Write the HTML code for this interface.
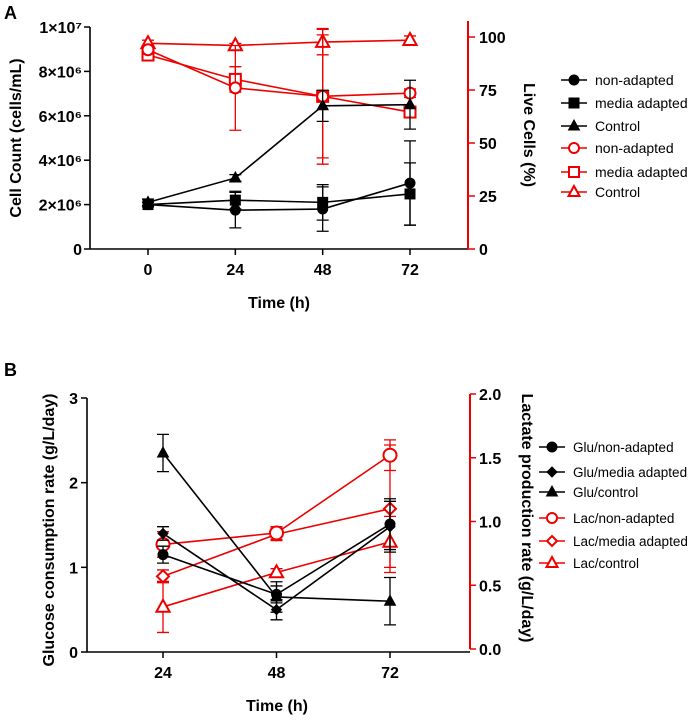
<!DOCTYPE html>
<html><head><meta charset="utf-8"><style>
html,body{margin:0;padding:0;background:#fff;}
svg{display:block;font-family:"Liberation Sans",Arial,sans-serif;}
.tk{font-size:16px;font-weight:bold;}
.tt{font-size:16px;font-weight:bold;}
.lg{font-size:14px;}
.lgb{font-size:13.5px;}
</style></head><body>
<svg id="chart" width="696" height="720" viewBox="0 0 696 720"></svg>
<script>
// ---------- Panel A data ----------
const timesA = [0, 24, 48, 72];
const cellNon = [2.0, 1.75, 1.8, 2.97];
const cellNonErr = [0.1, 0.8, 1.0, 1.9];
const cellMedia = [2.0, 2.2, 2.1, 2.48];
const cellMediaErr = [0.1, 0.4, 0.8, 1.4];
const cellCtrl = [2.1, 3.2, 6.45, 6.5];
const cellCtrlErr = [0.15, 0.15, 0.7, 1.1];
const liveNon = [94, 76, 72, 73.5];
const liveNonErr = [2, 20, 32, 2];
const liveMedia = [91.5, 80, 72, 64.6];
const liveMediaErr = [2, 6, 29, 2];
const liveCtrl = [97, 96, 97.6, 98.5];
const liveCtrlErr = [1.5, 1, 6, 2];
const ticksALeft = [0, 2, 4, 6, 8, 10];
const ticksALeftLbl = ["0", "2×10⁶", "4×10⁶", "6×10⁶", "8×10⁶", "1×10⁷"];
const ticksARight = [0, 25, 50, 75, 100];
// ---------- Panel B data ----------
const timesB = [24, 48, 72];
const gluNon = [1.15, 0.68, 1.51];
const gluNonErr = [0.1, 0.1, 0.3];
const gluMedia = [1.4, 0.5, 1.48];
const gluMediaErr = [0.08, 0.12, 0.3];
const gluCtrl = [2.35, 0.65, 0.6];
const gluCtrlErr = [0.22, 0.18, 0.28];
const lacNon = [0.82, 0.91, 1.52];
const lacNonErr = [0.1, 0.05, 0.12];
const lacMedia = [0.57, 0.9, 1.1];
const lacMediaErr = [0.05, 0.05, 0.5];
const lacCtrl = [0.33, 0.6, 0.84];
const lacCtrlErr = [0.2, 0.03, 0.2];
const ticksBLeft = [0, 1, 2, 3];
const ticksBRight = ["0.0", "0.5", "1.0", "1.5", "2.0"];

const NS = "http://www.w3.org/2000/svg";
const svg = document.getElementById("chart");
function mk(tag, attrs, parent, text) {
  const e = document.createElementNS(NS, tag);
  for (const k in attrs) e.setAttribute(k, attrs[k]);
  if (text !== undefined) e.textContent = text;
  (parent || svg).appendChild(e);
  return e;
}
function marker(g, shape, x, y, col, filled, s) {
  const fill = filled ? col : "#fff";
  const sw = filled ? 1 : 2;
  let m;
  if (shape === "circle") m = mk("circle", {cx: x, cy: y, r: s, fill: fill, stroke: col, "stroke-width": sw}, g);
  else if (shape === "square") m = mk("rect", {x: x - s, y: y - s, width: 2 * s, height: 2 * s, fill: fill, stroke: col, "stroke-width": sw}, g);
  else if (shape === "triangle") m = mk("polygon", {points: `${x},${y - s * 1.2} ${x - s * 1.1},${y + s * 0.8} ${x + s * 1.1},${y + s * 0.8}`, fill: fill, stroke: col, "stroke-width": sw}, g);
  else m = mk("polygon", {points: `${x},${y - s} ${x + s},${y} ${x},${y + s} ${x - s},${y}`, fill: fill, stroke: col, "stroke-width": sw}, g);
  return m;
}
function series(name, xs, ys, errs, xf, yf, shape, col, filled, s) {
  const g = mk("g", {});
  
  
  let d = "";
  xs.forEach((t, i) => { d += (i ? "L" : "M") + xf(t) + "," + yf(ys[i]); });
  mk("path", {d: d, fill: "none", stroke: col, "stroke-width": 1.6}, g);
  xs.forEach((t, i) => {
    const x = xf(t), y1 = yf(ys[i] - errs[i]), y2 = yf(ys[i] + errs[i]);
    mk("path", {d: `M${x},${y1}V${y2}M${x - 6},${y1}H${x + 6}M${x - 6},${y2}H${x + 6}`, stroke: col, "stroke-width": 1.3, fill: "none"}, g);
  });
  xs.forEach((t, i) => {
    const m = marker(g, shape, xf(t), yf(ys[i]), col, filled, s);
    
    
  });
}
function legend(x, y, shape, col, filled, label, name, cls) {
  const g = mk("g", {});
  
  
  mk("line", {x1: x - 13, x2: x + 13, y1: y, y2: y, stroke: col, "stroke-width": 1.6}, g);
  marker(g, shape, x, y, col, filled, 5);
  mk("text", {x: x + 21, y: y + 5, class: cls, fill: "#000"}, g, label);
}

// ================= Panel A =================
const xA = t => 148 + (410 - 148) * t / 72;
const yAL = v => 249 - (249 - 27) * v / 10;
const yAR = v => 249 - (249 - 37) * v / 100;
mk("text", {x: 4, y: 19, "font-size": 18, "font-weight": "bold"}, svg, "A");
let gA = mk("g", {});  
mk("line", {x1: 90, x2: 90, y1: 27, y2: 249, stroke: "#000", "stroke-width": 1.6}, gA);
mk("line", {x1: 90, x2: 468, y1: 249, y2: 249, stroke: "#000", "stroke-width": 1.6}, gA);
mk("line", {x1: 468, x2: 468, y1: 21, y2: 249, stroke: "#e00", "stroke-width": 2}, gA);
ticksALeft.forEach((v, i) => {
  mk("line", {x1: 84, x2: 90, y1: yAL(v), y2: yAL(v), stroke: "#000", "stroke-width": 1.5}, gA);
  mk("text", {x: 82, y: yAL(v) + 6, class: "tk", "text-anchor": "end"}, gA, ticksALeftLbl[i]);
});
ticksARight.forEach(v => {
  mk("line", {x1: 468, x2: 475, y1: yAR(v), y2: yAR(v), stroke: "#e00", "stroke-width": 1.5}, gA);
  mk("text", {x: 479, y: yAR(v) + 6, class: "tk"}, gA, String(v));
});
timesA.forEach(t => {
  mk("line", {x1: xA(t), x2: xA(t), y1: 249, y2: 255, stroke: "#000", "stroke-width": 1.5}, gA);
  mk("text", {x: xA(t), y: 275, class: "tk", "text-anchor": "middle"}, gA, String(t));
});
mk("text", {x: 279, y: 308, class: "tt", "text-anchor": "middle"}, gA, "Time (h)");
mk("text", {transform: "translate(21,138) rotate(-90)", class: "tt", "text-anchor": "middle"}, gA, "Cell Count (cells/mL)");
mk("text", {transform: "translate(524,135) rotate(90)", class: "tt", "text-anchor": "middle"}, gA, "Live Cells (%)");

series("live-control", timesA, liveCtrl, liveCtrlErr, xA, yAR, "triangle", "#e00", false, 6);
series("live-media-adapted", timesA, liveMedia, liveMediaErr, xA, yAR, "square", "#e00", false, 5.5);
series("live-non-adapted", timesA, liveNon, liveNonErr, xA, yAR, "circle", "#e00", false, 5.5);
series("cell-control", timesA, cellCtrl, cellCtrlErr, xA, yAL, "triangle", "#000", true, 5);
series("cell-media-adapted", timesA, cellMedia, cellMediaErr, xA, yAL, "square", "#000", true, 5);
series("cell-non-adapted", timesA, cellNon, cellNonErr, xA, yAL, "circle", "#000", true, 5);

const lgA = [["circle", "#000", true, "non-adapted"], ["square", "#000", true, "media adapted"], ["triangle", "#000", true, "Control"],
  ["circle", "#e00", false, "non-adapted"], ["square", "#e00", false, "media adapted"], ["triangle", "#e00", false, "Control"]];
const lgAy = [80, 103, 126, 148, 172, 192];
lgA.forEach((l, i) => legend(574, lgAy[i], l[0], l[1], l[2], l[3], "legend-a-entry", "lg"));

// ================= Panel B =================
const xB = t => 163 + (390 - 163) * (t - 24) / 48;
const yBL = v => 652 - (652 - 398) * v / 3;
const yBR = v => 649 - (649 - 394) * v / 2;
mk("text", {x: 4, y: 376, "font-size": 18, "font-weight": "bold"}, svg, "B");
let gB = mk("g", {});  
mk("line", {x1: 87, x2: 87, y1: 398, y2: 652, stroke: "#000", "stroke-width": 1.6}, gB);
mk("line", {x1: 87, x2: 470, y1: 652, y2: 652, stroke: "#000", "stroke-width": 1.6}, gB);
mk("line", {x1: 470, x2: 470, y1: 394, y2: 649, stroke: "#e00", "stroke-width": 2}, gB);
ticksBLeft.forEach(v => {
  mk("line", {x1: 81, x2: 87, y1: yBL(v), y2: yBL(v), stroke: "#000", "stroke-width": 1.5}, gB);
  mk("text", {x: 78, y: yBL(v) + 6, class: "tk", "text-anchor": "end"}, gB, String(v));
});
ticksBRight.forEach(v => {
  const y = yBR(parseFloat(v));
  mk("line", {x1: 470, x2: 476, y1: y, y2: y, stroke: "#e00", "stroke-width": 1.5}, gB);
  mk("text", {x: 479, y: y + 6, class: "tk"}, gB, v);
});
timesB.forEach(t => {
  mk("line", {x1: xB(t), x2: xB(t), y1: 652, y2: 658, stroke: "#000", "stroke-width": 1.5}, gB);
  mk("text", {x: xB(t), y: 678, class: "tk", "text-anchor": "middle"}, gB, String(t));
});
mk("text", {x: 277, y: 711, class: "tt", "text-anchor": "middle"}, gB, "Time (h)");
mk("text", {transform: "translate(54,530) rotate(-90)", class: "tt", "text-anchor": "middle"}, gB, "Glucose consumption rate (g/L/day)");
mk("text", {transform: "translate(522,518) rotate(90)", class: "tt", "text-anchor": "middle"}, gB, "Lactate production rate (g/L/day)");

series("lac-control", timesB, lacCtrl, lacCtrlErr, xB, yBR, "triangle", "#e00", false, 6);
series("lac-media-adapted", timesB, lacMedia, lacMediaErr, xB, yBR, "diamond", "#e00", false, 6);
series("lac-non-adapted", timesB, lacNon, lacNonErr, xB, yBR, "circle", "#e00", false, 6.5);
series("glu-control", timesB, gluCtrl, gluCtrlErr, xB, yBL, "triangle", "#000", true, 5);
series("glu-media-adapted", timesB, gluMedia, gluMediaErr, xB, yBL, "diamond", "#000", true, 5);
series("glu-non-adapted", timesB, gluNon, gluNonErr, xB, yBL, "circle", "#000", true, 5);

const lgB = [["circle", "#000", true, "Glu/non-adapted"], ["diamond", "#000", true, "Glu/media adapted"], ["triangle", "#000", true, "Glu/control"],
  ["circle", "#e00", false, "Lac/non-adapted"], ["diamond", "#e00", false, "Lac/media adapted"], ["triangle", "#e00", false, "Lac/control"]];
const lgBy = [447, 472, 492, 518, 541, 563];
lgB.forEach((l, i) => legend(552, lgBy[i], l[0], l[1], l[2], l[3], "legend-b-entry", "lgb"));
</script>
</body></html>
